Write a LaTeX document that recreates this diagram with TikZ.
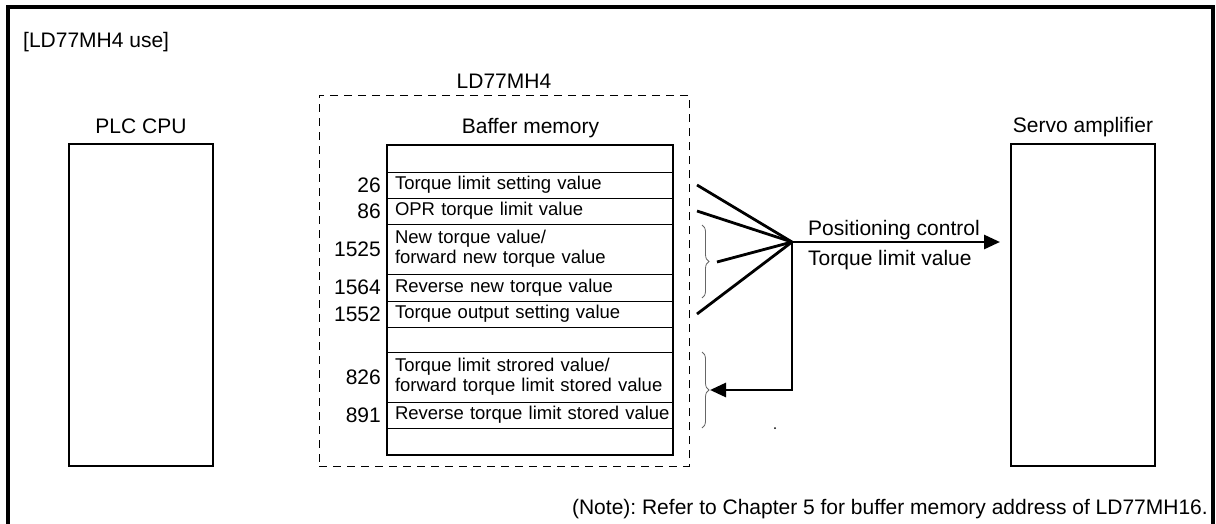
\documentclass[tikz,border=0pt]{standalone}
\usepackage{fontspec}
\setmainfont{Liberation Sans}
\usetikzlibrary{arrows.meta,positioning,decorations.pathreplacing,shadows}
\frenchspacing

\begin{document}
\begin{tikzpicture}[x=1pt,y=-1pt,>={Triangle[length=16pt,width=14pt]},node distance=0pt]
\tikzstyle{lbl}=[inner sep=0pt,font=\fontsize{21}{24}\selectfont]
\tikzstyle{unit}=[draw,line width=1.5pt,fill=white,minimum width=144pt,minimum height=322pt,drop shadow={shadow xshift=1.2pt,shadow yshift=-1.2pt,fill=black!30}]
\tikzstyle{cell}=[draw,line width=0.8pt,outer sep=0pt,inner xsep=8pt,inner ysep=0pt,text width=270pt,align=left,font=\fontsize{18.5}{20}\selectfont]
\tikzstyle{fan}=[line width=2.8pt]
\tikzstyle{curly}=[draw=black!60,line width=0.8pt,decorate,decoration={brace,amplitude=7pt}]
\useasboundingbox (0,0) rectangle (1216,523);
\draw[line width=4pt] (8,530) -- (8,7) -- (1213,7) -- (1213,530);
\node[lbl,anchor=base west] (use) at (23,47) {[LD77MH4 use]};
\node[unit] (plc) at (141,305) {};
\node[unit] (servo) at (1083,305) {};
\node[lbl,anchor=base] (plcl) at (141,133) {PLC CPU};
\node[lbl,anchor=base] (servol) at (1083,132) {Servo amplifier};
\node[draw,dash pattern=on 8pt off 6pt,line width=1pt,minimum width=370pt,minimum height=371pt] (ld) at (504,280.5) {};
\node[lbl,anchor=base] (ldl) at (504,88) {LD77MH4};
\node[lbl,anchor=base] (meml) at (530.5,133) {Baffer memory};
\node[cell,minimum height=27pt,anchor=north west] (r0) at (387,145) {};
\node[cell,minimum height=26pt,below=of r0] (r1) {Torque limit setting value};
\node[cell,minimum height=26pt,below=of r1] (r2) {OPR torque limit value};
\node[cell,minimum height=50pt,below=of r2] (r3) {New torque value/\\forward new torque value};
\node[cell,minimum height=27pt,below=of r3] (r4) {Reverse new torque value};
\node[cell,minimum height=26pt,below=of r4] (r5) {Torque output setting value};
\node[cell,minimum height=25pt,below=of r5] (r6) {};
\node[cell,minimum height=50pt,below=of r6] (r7) {Torque limit strored value/\\\mbox{forward torque limit stored value}};
\node[cell,minimum height=26pt,below=of r7] (r8) {\mbox{Reverse torque limit stored value}};
\node[cell,minimum height=27pt,below=of r8] (r9) {};
\draw[line width=1.6pt] (r0.north west) rectangle (r9.south east);
\node[lbl,left=6pt of r1] (a1) {26};
\node[lbl,left=6pt of r2] (a2) {86};
\node[lbl,left=6pt of r3] (a3) {1525};
\node[lbl,left=6pt of r4] (a4) {1564};
\node[lbl,left=6pt of r5] (a5) {1552};
\node[lbl,left=6pt of r7] (a7) {826};
\node[lbl,left=6pt of r8] (a8) {891};
\coordinate (hub) at (792,242);
\coordinate (f1) at (697,0 |- r1);
\coordinate (f2) at (697,0 |- r2);
\coordinate (f3) at (717,262);
\coordinate (f4) at (697,0 |- r5);
\coordinate (b2) at (710,390);
\coordinate (tip) at (1000,242);
\draw[curly] (702,225) -- (702,298);
\draw[curly] (702,352) -- (702,428);
\draw[fan] (f1) -- (hub); \draw[fan] (f2) -- (hub); \draw[fan] (f3) -- (hub); \draw[fan] (f4) -- (hub);
\draw[fan,->] (hub) -- (tip);
\draw[fan,->] (hub) |- (b2);
\node[lbl,anchor=base west] (pc) at (808,235) {Positioning control};
\node[lbl,anchor=base west] (tl) at (808,265) {Torque limit value};
\fill (775,428) circle (1pt);
\node[lbl,anchor=base east] (note) at (1208,514) {(Note): Refer to Chapter 5 for buffer memory address of LD77MH16.};
\end{tikzpicture}
\end{document}
